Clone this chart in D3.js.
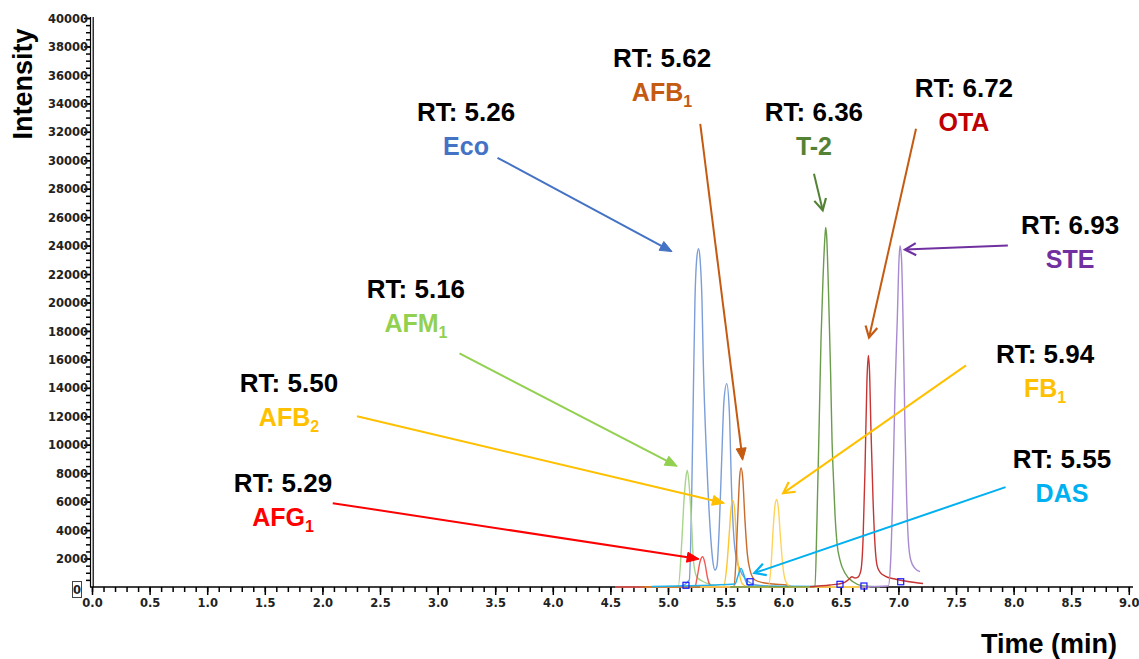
<!DOCTYPE html>
<html>
<head>
<meta charset="utf-8">
<script src="https://cdn.jsdelivr.net/npm/d3@7/dist/d3.min.js"></script>
<style>
  body { margin: 0; background: #fff; }
  svg { display: block; }
  text { font-family: Arial, 'Liberation Sans', sans-serif; }
</style>
</head>
<body>
<svg id="chart" width="1139" height="659"></svg>
<script>
// chromatogram traces, [time (min), intensity]
var ecoTrace = [[4.85,0],[5.10,35],[5.185,490],[5.206,6600],[5.220,13610],[5.234,20140],[5.252,23300],[5.265,23790],
  [5.278,23090],[5.295,20140],[5.306,15930],[5.336,8910],[5.365,4210],[5.388,1895],[5.408,1190],[5.425,1470],
  [5.445,4210],[5.466,8910],[5.486,13120],[5.510,14300],[5.532,12420],[5.553,6600],[5.582,2600],[5.625,1190],
  [5.683,490],[5.770,140],[5.972,35],[6.72,0]]
var afm1Trace = [[4.90,0],[5.089,20],[5.119,3090],[5.139,6105],[5.156,7740],[5.168,8210],[5.185,7040],[5.206,4230],
  [5.220,1895],[5.249,720],[5.307,370],[5.393,140],[5.451,20],[5.80,0]]
var afg1Trace = [[4.54,0],[5.234,20],[5.254,720],[5.278,1775],[5.301,2125],[5.321,1665],[5.341,720],[5.365,140],
  [5.393,0],[6.15,0]]
var afb2Trace = [[4.80,0],[5.480,20],[5.510,1425],[5.532,3770],[5.549,5635],[5.562,6105],[5.579,5405],[5.596,2830],
  [5.619,960],[5.654,140],[5.712,0],[6.75,0]]
var afb1Trace = [[4.76,0],[5.573,20],[5.590,1895],[5.608,5405],[5.622,7740],[5.634,8370],[5.648,7740],[5.668,4700],
  [5.688,2365],[5.712,1190],[5.755,490],[5.827,300],[5.914,210],[6.030,140],[6.074,20],[6.41,0]]
var dasTrace = [[4.858,35],[5.582,210],[5.605,720],[5.634,1310],[5.654,960],[5.677,370],[5.712,70],[6.319,35]]
var fb1Trace = [[5.28,0],[5.871,20],[5.894,1425],[5.914,4230],[5.931,5875],[5.944,6155],[5.957,5635],[5.978,3300],
  [6.001,1190],[6.030,260],[6.074,0],[6.75,0]]
var t2Trace = [[5.54,0],[6.276,20],[6.293,4700],[6.311,11020],[6.328,17330],[6.345,21540],[6.363,24700],[6.369,25280],
  [6.377,24700],[6.393,20840],[6.411,15230],[6.424,10320],[6.437,7510],[6.450,5050],[6.467,3090],[6.493,1895],
  [6.536,980],[6.606,370],[6.693,70],[6.84,0]]
var otaTrace = [[6.233,20],[6.406,140],[6.519,280],[6.563,490],[6.597,720],[6.623,630],[6.649,700],[6.675,1190],
  [6.693,3300],[6.710,8210],[6.727,14530],[6.739,16280],[6.749,15230],[6.762,11020],[6.780,6105],[6.797,2950],
  [6.814,1545],[6.840,1050],[6.884,770],[6.970,560],[7.057,420],[7.144,315],[7.214,245]]
var steTrace = [[6.667,0],[6.912,70],[6.933,1895],[6.951,6600],[6.970,13610],[6.990,18740],[7.005,22950],[7.014,24000],
  [7.027,23090],[7.042,18040],[7.057,11250],[7.072,6105],[7.086,3300],[7.107,1895],[7.144,1310],[7.188,1075]]

// integration markers
var markerPoints = [[5.156,120],[5.712,370],[6.493,190],[6.701,70],[7.02,370]]

// annotations
var compounds = ['Eco','AFM','AFG','AFB','AFB','DAS','FB','T-2','OTA','STE']
var subscripts = ['','1','1','2','1','','1','','','']
var rtLabels = ['5.26','5.16','5.29','5.50','5.62','5.55','5.94','6.36','6.72','6.93']
var traces = [ecoTrace, afm1Trace, afg1Trace, afb2Trace, afb1Trace, dasTrace, fb1Trace, t2Trace, otaTrace, steTrace]
var labelAt = [[3.247,32770],[2.812,20350],[1.658,6670],[1.710,13680],[4.948,36560],[8.420,8350],[8.273,15720],
  [6.267,32770],[7.569,34455],[8.490,24840]]
var arrowFrom = [[3.52,30175],[3.19,16420],[2.09,5895],[2.30,12000],[5.28,32560],[7.93,7020],[7.587,15580],
  [6.267,29050],[7.153,32210],[7.95,24000]]
var arrowTo = [[5.035,23580],[5.08,8490],[5.27,1965],[5.49,5895],[5.648,8912],[5.75,980],[6.00,6600],
  [6.343,26490],[6.745,17540],[7.057,23720]]

// styling
var traceColors = ['#7b9ed9','#a9d48c','#f25a55','#ffc52e','#c86b2c','#1fb2ec','#ffd35a','#6a9c4b','#c73434','#a88ad0']
var labelColors = ['#4472c4','#92d050','#ff0000','#ffc000','#c55a11','#00b0f0','#ffc000','#548235','#c00000','#7030a0']
var arrowColors = ['#4472c4','#92d050','#ff0000','#ffc000','#c55a11','#00b0f0','#ffc000','#548235','#c55a11','#7030a0']
var openHead = [false,false,false,false,false,true,true,true,true,true]

var svg = d3.select('#chart')

var x = d3.scaleLinear().domain([0, 9]).range([92, 1128.8])
var y = d3.scaleLinear().domain([0, 40000]).range([587, 18])

var tickFont = "bold 11.5px 'DejaVu Sans', sans-serif"

// y axis
var yMinor = svg.append('g').attr('transform', 'translate(90,0)')
  .call(d3.axisLeft(y).tickValues(d3.range(500, 40001, 500)).tickSize(4).tickFormat(''))
var yMajor = svg.append('g').attr('transform', 'translate(90,0)')
  .call(d3.axisLeft(y).tickValues(d3.range(2000, 40001, 2000)).tickSize(6).tickFormat(d3.format('d')))
yMinor.select('.domain').remove()
yMajor.select('.domain').remove()
svg.selectAll('g line').attr('stroke', '#000').attr('stroke-width', 1.3)
yMajor.selectAll('text')
  .attr('x', -2).attr('dy', '0.36em')
  .attr('fill', '#222')
  .style('font', tickFont)

svg.append('line').attr('x1', 90.5).attr('x2', 90.5).attr('y1', y(40000) - 1).attr('y2', y(0))
  .attr('stroke', '#000').attr('stroke-width', 1.2)
svg.append('line').attr('x1', 93.2).attr('x2', 93.2).attr('y1', y(40000) - 1).attr('y2', y(0))
  .attr('stroke', '#000').attr('stroke-width', 1.2)

// boxed zero label
svg.append('rect').attr('x', 72.5).attr('y', y(0) - 5.5).attr('width', 9).attr('height', 16)
  .attr('fill', 'none').attr('stroke', '#444').attr('stroke-width', 1)
svg.append('text').attr('x', 77).attr('y', y(0) + 7).attr('text-anchor', 'middle')
  .attr('fill', '#222').style('font', tickFont).text('0')

// x axis
var xMinor = svg.append('g').attr('transform', 'translate(0,' + y(0) + ')')
  .call(d3.axisBottom(x).tickValues(d3.range(0, 90.5, 1).map(function(d){ return d / 10 })).tickSize(5).tickFormat(''))
var xMajor = svg.append('g').attr('transform', 'translate(0,' + y(0) + ')')
  .call(d3.axisBottom(x).tickValues(d3.range(0, 19, 1).map(function(d){ return d / 2 })).tickSize(8).tickFormat(d3.format('.1f')))
xMinor.select('.domain').remove()
xMajor.select('.domain').remove()
svg.selectAll('g line').attr('stroke', '#000').attr('stroke-width', 1.5)
xMajor.selectAll('text')
  .attr('y', 20).attr('dy', 0)
  .attr('fill', '#222')
  .style('font', tickFont)

svg.append('line').attr('x1', 90).attr('x2', 1133).attr('y1', y(0)).attr('y2', y(0))
  .attr('stroke', '#000').attr('stroke-width', 1.6)

// axis titles
svg.append('text')
  .attr('transform', 'translate(32,84) rotate(-90)')
  .attr('text-anchor', 'middle')
  .style('font-size', '27px').style('font-weight', 'bold')
  .text('Intensity')
svg.append('text')
  .attr('x', 1049).attr('y', 653)
  .attr('text-anchor', 'middle')
  .style('font-size', '27px').style('font-weight', 'bold')
  .text('Time (min)')

// traces
var line = d3.line()
  .x(function(d){ return x(d[0]) })
  .y(function(d){ return y(d[1]) })
  .curve(d3.curveMonotoneX)

svg.append('g').selectAll('path')
  .data(traces)
  .join('path')
  .attr('d', line)
  .attr('fill', 'none')
  .attr('stroke', function(d, i){ return traceColors[i] })
  .attr('stroke-width', 1.4)

svg.append('g').selectAll('rect')
  .data(markerPoints)
  .join('rect')
  .attr('x', function(d){ return x(d[0]) - 3 })
  .attr('y', function(d){ return y(d[1]) - 3 })
  .attr('width', 6).attr('height', 6)
  .attr('fill', 'none').attr('stroke', '#1a1aff').attr('stroke-width', 1.2)

// arrows
var arrows = svg.append('g')
compounds.forEach(function(c, i){
  var x0 = x(arrowFrom[i][0]), y0 = y(arrowFrom[i][1])
  var x1 = x(arrowTo[i][0]), y1 = y(arrowTo[i][1])
  var len = Math.hypot(x1 - x0, y1 - y0)
  var ux = (x1 - x0) / len, uy = (y1 - y0) / len
  var px = -uy, py = ux
  var col = arrowColors[i]
  var L = openHead[i] ? 11 : 12, W = openHead[i] ? 6 : 5
  var lineEnd = openHead[i] ? 0 : L * 0.7
  arrows.append('line')
    .attr('x1', x0).attr('y1', y0)
    .attr('x2', x1 - ux * lineEnd).attr('y2', y1 - uy * lineEnd)
    .attr('stroke', col).attr('stroke-width', 2)
  var a = [x1 - ux * L + px * W, y1 - uy * L + py * W]
  var b = [x1 - ux * L - px * W, y1 - uy * L - py * W]
  var d = 'M' + a + 'L' + [x1, y1] + 'L' + b
  if (openHead[i]) {
    arrows.append('path').attr('d', d).attr('fill', 'none')
      .attr('stroke', col).attr('stroke-width', 2.2).attr('stroke-linejoin', 'miter')
  } else {
    arrows.append('path').attr('d', d + 'Z').attr('fill', col).attr('stroke', col).attr('stroke-width', 1)
  }
})

// labels
var labels = svg.append('g')
compounds.forEach(function(c, i){
  var cx = x(labelAt[i][0]), by = y(labelAt[i][1])
  labels.append('text')
    .attr('x', cx).attr('y', by)
    .attr('text-anchor', 'middle')
    .style('font-size', '26px').style('font-weight', 'bold')
    .attr('fill', '#000')
    .text('RT: ' + rtLabels[i])
  var t = labels.append('text')
    .attr('x', cx).attr('y', by + 34)
    .attr('text-anchor', 'middle')
    .style('font-size', '25px').style('font-weight', 'bold')
    .attr('fill', labelColors[i])
  t.append('tspan').text(c)
  if (subscripts[i]) {
    t.append('tspan').attr('dy', 6).style('font-size', '16px').text(subscripts[i])
  }
})
</script>
</body>
</html>
